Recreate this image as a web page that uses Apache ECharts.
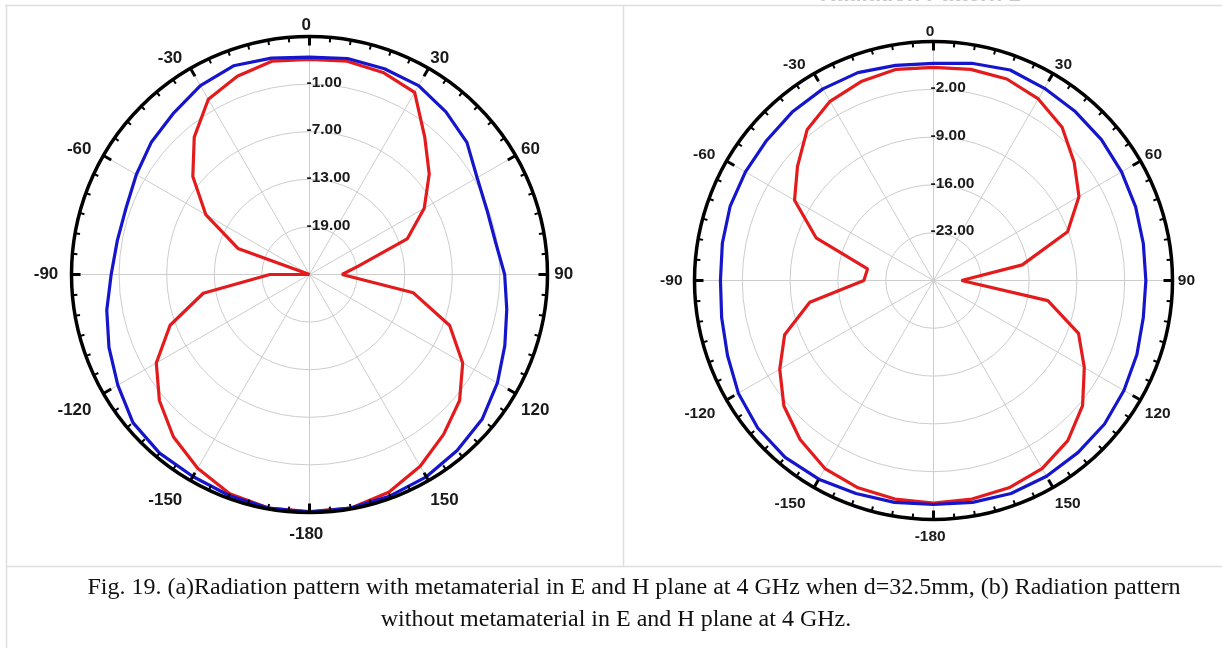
<!DOCTYPE html>
<html>
<head>
<meta charset="utf-8">
<script src="https://cdn.jsdelivr.net/npm/echarts@6/dist/echarts.min.js"></script>
<style>
html,body{margin:0;padding:0;background:#fff;}
#chart{width:1222px;height:648px;}
</style>
</head>
<body>
<div id="chart"></div>
<script>
// Angles (degrees, as labelled on the chart)
const angles = [0,10,20,30,40,50,60,70,80,90,100,110,120,130,140,150,160,170,180,
  -170,-160,-150,-140,-130,-120,-110,-100,-90,-80,-70,-60,-50,-40,-30,-20,-10,0];

// (a) with metamaterial
const redA = [2.1,2.3,2.1,1.5,-2.4,-5.3,-8.3,-11.9,-18.7,-20.9,-11.7,-6.2,-2.7,-0.3,1.3,2.9,4.2,4.9,4.9,
  4.9,4.4,3.2,1.7,-0.3,-2.7,-6.3,-11.4,-20.0,-25,-15.4,-9.9,-5.8,-2.4,0.5,1.6,2.3,2.1];
const blueA = [2.4,2.65,2.6,2.5,1.75,0.9,-0.6,-1.2,-1.2,-0.4,0.25,1.2,2.35,3.4,3.95,4.45,4.7,4.9,4.95,
  4.9,4.65,4.4,4.4,4.05,2.9,1.9,0.95,0.0,-0.4,-0.4,0.2,1.0,1.6,2.5,3.0,2.7,2.4];

// (b) without metamaterial
const redB = [1.2,1.4,1.4,0.7,-0.7,-3.1,-5.4,-9.1,-16.8,-25.9,-13.0,-7.4,-4.5,-1.5,0.6,1.8,2.3,2.5,2.6,
  2.5,2.3,1.8,0.4,-1.4,-4.0,-6.8,-11.6,-19.8,-20.2,-11.7,-6.5,-4.0,-1.2,0.3,1.0,1.4,1.2];
const blueB = [1.8,2.3,2.8,2.5,2.3,2.1,1.8,1.5,1.2,1.1,1.2,1.7,2.2,2.7,2.9,3.1,3.2,3.0,2.8,
  3.0,3.2,3.6,3.8,3.6,3.0,2.1,1.5,1.2,1.4,1.7,1.8,1.9,2.2,2.4,2.4,2.0,1.8];

// radial axis settings (dB)
const radialA = {min:-25, max:5, step:6};
const radialB = {min:-30, max:5, step:7};

const captionLine1 = 'Fig. 19. (a)Radiation pattern with metamaterial in E and H plane at 4 GHz when d=32.5mm, (b) Radiation pattern';
const captionLine2 = 'without metamaterial in E and H plane at 4 GHz.';
const ghostTitle = 'Radiation Pattern 1';

function pts(vals){
  return vals.map((v,i)=>[v, (angles[i]+360)%360 + (i===angles.length-1 ? 360 : 0)]);
}
function angleLabel(v){
  if (v === 180) return '-180';
  if (v > 180) return String(v-360);
  return String(v);
}
const gridColor = '#cdcdcd';
const FONT = 'Liberation Sans';
// main angle axis: ring, ticks and labels (drawn above the curves)
function angleAxisMain(idx, fontSize, margin, pad){
  return {
    polarIndex: idx, type:'value', min:0, max:360, interval:30, startAngle:90, clockwise:true, z:5,
    axisLine:{show:true, lineStyle:{color:'#000', width:3.5}},
    axisTick:{show:true, inside:true, length:9, lineStyle:{color:'#000', width:3}},
    minorTick:{show:true, splitNumber:6, length:5, lineStyle:{color:'#000', width:2}},
    splitLine:{show:false},
    axisLabel:{show:true, margin:margin, formatter:angleLabel, color:'#1a1a1a', padding:pad,
      fontFamily:FONT, fontWeight:'bold', fontSize:fontSize}
  };
}
// grid angle axis: spokes only (drawn below)
function angleAxisGrid(idx){
  return {
    polarIndex: idx, type:'value', min:0, max:360, interval:30, startAngle:90, clockwise:true, z:0,
    axisLine:{show:false}, axisTick:{show:false}, axisLabel:{show:false},
    splitLine:{show:true, lineStyle:{color:gridColor, width:1}}
  };
}
function radiusAxisMain(idx, cfg){
  return {polarIndex: idx, type:'value', min:cfg.min, max:cfg.max, interval:cfg.step, show:false,
    axisLine:{show:false}, axisTick:{show:false}, axisLabel:{show:false}, splitLine:{show:false}};
}
function radiusAxisGrid(idx, cfg){
  return {
    polarIndex: idx, type:'value', min:cfg.min, max:cfg.max, interval:cfg.step, z:1,
    axisLine:{show:false}, axisTick:{show:false},
    splitLine:{show:true, lineStyle:{color:gridColor, width:1}},
    axisLabel:{show:true, showMinLabel:false, showMaxLabel:false, margin:0,
      align:'left', verticalAlign:'bottom', padding:[0,0,-6.5,-3],
      formatter:(v)=>v.toFixed(2), color:'#1a1a1a',
      fontFamily:FONT, fontWeight:'bold', fontSize:15.5}
  };
}
function line(idx, vals, color){
  return {type:'line', coordinateSystem:'polar', polarIndex:idx, data:pts(vals),
    showSymbol:false, symbol:'none', lineStyle:{color:color, width:3.2}, animation:false, z:2};
}
const RED = '#e41b1c', BLUE = '#1515cc';
const LC = [309.5,274.5], RC = [933.5,280.5];
const chart = echarts.init(document.getElementById('chart'), null, {renderer:'canvas'});
chart.setOption({
  backgroundColor:'#fff',
  animation:false,
  polar:[{center:LC, radius:238},{center:RC, radius:239},{center:LC, radius:238},{center:RC, radius:239}],
  angleAxis:[angleAxisMain(0, 17, 10, [3,3.2,-7,-3.2]), angleAxisMain(1, 15.5, 7, [2,5,-5.5,-1.7]),
             angleAxisGrid(2), angleAxisGrid(3)],
  radiusAxis:[radiusAxisMain(0, radialA), radiusAxisMain(1, radialB), radiusAxisGrid(2, radialA), radiusAxisGrid(3, radialB)],
  series:[line(0, redA, RED), line(0, blueA, BLUE), line(1, redB, RED), line(1, blueB, BLUE)],
  graphic:[
    {type:'line', shape:{x1:5, y1:5.5, x2:1222, y2:5.5}, style:{stroke:'#dedede', lineWidth:1.5}, silent:true},
    {type:'line', shape:{x1:6.5, y1:5, x2:6.5, y2:648}, style:{stroke:'#dedede', lineWidth:1.5}, silent:true},
    {type:'line', shape:{x1:623.5, y1:5, x2:623.5, y2:566}, style:{stroke:'#dedede', lineWidth:1.5}, silent:true},
    {type:'line', shape:{x1:6, y1:566.5, x2:1222, y2:566.5}, style:{stroke:'#dedede', lineWidth:1.5}, silent:true},
    {type:'text', left:820, top:-16, style:{text:ghostTitle, fill:'#c8c8c8', font:'bold 22px "Liberation Sans", Arial'}, silent:true},
    {type:'text', x:634, y:588, style:{text:captionLine1, fill:'#111', textAlign:'center', textVerticalAlign:'middle', font:'24px "Liberation Serif", "Times New Roman", serif'}, silent:true},
    {type:'text', x:616, y:620, style:{text:captionLine2, fill:'#111', textAlign:'center', textVerticalAlign:'middle', font:'24px "Liberation Serif", "Times New Roman", serif'}, silent:true}
  ]
});
</script>
</body>
</html>
